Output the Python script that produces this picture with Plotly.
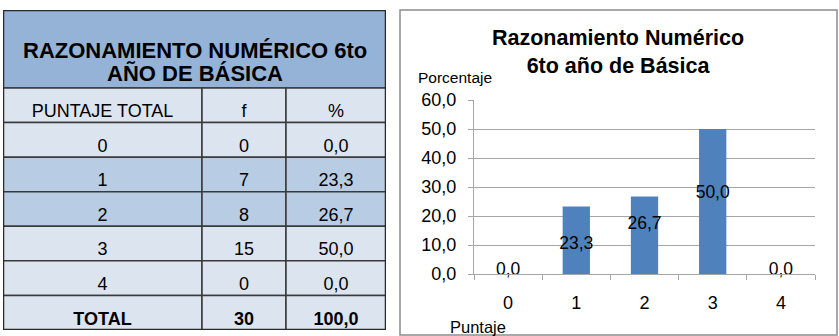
import plotly.graph_objects as go

# ---------------- data ----------------
puntaje = ["0", "1", "2", "3", "4"]
frecuencia = [0, 7, 8, 15, 0]
porcentaje = [0.0, 23.3, 26.7, 50.0, 0.0]
total_label = "TOTAL"
total_f = 30
total_pct = 100.0

table_title_lines = ["RAZONAMIENTO NUMÉRICO 6to", "AÑO DE BÁSICA"]
col_headers = ["PUNTAJE TOTAL", "f", "%"]
chart_title = "Razonamiento Numérico<br>6to año de Básica"
y_title = "Porcentaje"
x_title = "Puntaje"

# ---------------- layout / style constants ----------------
W, H = 839, 336
FONT = "Liberation Sans, Arial, sans-serif"
label_pos = [1.3, 10.1, 17.1, 27.7, 1.3]   # where the data labels sit (value units)

col_widths = [199, 84, 100]
tbl_left, tbl_top, tbl_bottom = 3, 10, 330
title_h = 78
title_line_y = [40, 63]
tbl_w = sum(col_widths)
tbl_h = tbl_bottom - tbl_top

HEAD_BLUE = "#95B3D7"
LIGHT = "#DCE4EF"
MID = "#B8CCE4"
GRID = "#A6A6A6"
BORDER = "#3A3A3A"


def fmt(v):
    return f"{v:.1f}".replace(".", ",")


rows = [col_headers]
for p, f, pc in zip(puntaje, frecuencia, porcentaje):
    rows.append([p, str(f), fmt(pc)])
rows.append([f"<b>{total_label}</b>", f"<b>{total_f}</b>", f"<b>{fmt(total_pct)}</b>"])
row_fill = [LIGHT, LIGHT, MID, MID, LIGHT, LIGHT, LIGHT]

n_rows = len(rows)
row_h = (tbl_h - title_h) / n_rows
col_edges = [0]
for w in col_widths:
    col_edges.append(col_edges[-1] + w)
col_centers = [(col_edges[i] + col_edges[i + 1]) / 2 for i in range(len(col_widths))]

fig = go.Figure()
shapes = []

# title block of the table
shapes.append(dict(type="rect", xref="x2", yref="y2", x0=0, x1=tbl_w, y0=0, y1=title_h,
                   fillcolor=HEAD_BLUE, line=dict(color=BORDER, width=1.5), layer="below"))

tx, ty, tt = [], [], []
for r, row in enumerate(rows):
    y0 = title_h + r * row_h
    y1 = y0 + row_h
    for c, val in enumerate(row):
        shapes.append(dict(type="rect", xref="x2", yref="y2",
                           x0=col_edges[c], x1=col_edges[c + 1], y0=y0, y1=y1,
                           fillcolor=row_fill[r], line=dict(color=BORDER, width=1.5),
                           layer="below"))
        tx.append(col_centers[c])
        ty.append(y1 - 10)
        tt.append(val)

# outer border of table
shapes.append(dict(type="rect", xref="x2", yref="y2", x0=0, x1=tbl_w, y0=0, y1=tbl_h,
                   line=dict(color="#2A2A2A", width=2.5), fillcolor="rgba(0,0,0,0)"))

fig.add_trace(go.Scatter(x=tx, y=ty, text=tt, mode="text", xaxis="x2", yaxis="y2",
                         textfont=dict(family=FONT, size=18, color="black"),
                         textposition="middle center", hoverinfo="skip", showlegend=False,
                         cliponaxis=False))

# ---------------- bar chart ----------------
fig.add_trace(go.Bar(x=puntaje, y=porcentaje, width=0.4,
                     marker=dict(color="#4F81BD", line=dict(width=0)),
                     showlegend=False, hoverinfo="skip"))
fig.add_trace(go.Scatter(x=puntaje, y=label_pos, text=[fmt(v) for v in porcentaje],
                         mode="text", textposition="middle center", cliponaxis=False,
                         textfont=dict(family=FONT, size=17.5, color="black"),
                         showlegend=False, hoverinfo="skip"))

# chart border
shapes.append(dict(type="rect", xref="paper", yref="paper",
                   x0=400 / W, x1=837 / W, y0=(H - 335) / H, y1=(H - 10) / H,
                   line=dict(color="#8C8C8C", width=1.5), fillcolor="rgba(0,0,0,0)"))

annotations = [
    dict(text=f"<b>{line}</b>", xref="x2", yref="y2", x=tbl_w / 2, y=ly,
         showarrow=False, xanchor="center", yanchor="middle",
         font=dict(family=FONT, size=22, color="black"))
    for line, ly in zip(table_title_lines, title_line_y)
] + [
    dict(text=f"<b>{chart_title}</b>", xref="paper", yref="paper", x=618 / W, y=(H - 51.5) / H,
         showarrow=False, xanchor="center", yanchor="middle",
         font=dict(family=FONT, size=21.5, color="black")),
    dict(text=y_title, xref="paper", yref="paper", x=416 / W, y=(H - 78) / H,
         showarrow=False, xanchor="left", yanchor="middle",
         font=dict(family=FONT, size=15.5, color="black")),
    dict(text=x_title, xref="paper", yref="paper", x=448 / W, y=(H - 327) / H,
         showarrow=False, xanchor="left", yanchor="middle",
         font=dict(family=FONT, size=16.5, color="black")),
]

fig.update_layout(
    width=W, height=H, margin=dict(l=0, r=0, t=0, b=0, pad=0, autoexpand=False),
    paper_bgcolor="white", plot_bgcolor="white",
    separators=", ",
    showlegend=False,
    shapes=shapes, annotations=annotations,
    xaxis=dict(domain=[474 / W, 815 / W], type="category", categoryorder="array",
               categoryarray=puntaje, range=[-0.5, 4.5], tickson="boundaries",
               ticks="outside", ticklen=5, tickcolor=GRID, tickwidth=1,
               showline=True, linecolor=GRID, linewidth=1, showgrid=False,
               ticklabelstandoff=12, automargin=False,
               tickfont=dict(family=FONT, size=18, color="black"), fixedrange=True),
    yaxis=dict(domain=[62 / H, 236 / H], range=[0, 60], dtick=10, tickformat=".1f",
               ticks="outside", ticklen=5, tickcolor=GRID, tickwidth=1,
               showline=True, linecolor=GRID, linewidth=1,
               showgrid=True, gridcolor=GRID, gridwidth=1, zeroline=False,
               ticklabelstandoff=8, automargin=False,
               tickfont=dict(family=FONT, size=18, color="black"), fixedrange=True),
    xaxis2=dict(domain=[tbl_left / W, (tbl_left + tbl_w) / W], range=[0, tbl_w],
                visible=False, fixedrange=True, automargin=False),
    yaxis2=dict(domain=[(H - tbl_bottom) / H, (H - tbl_top) / H], range=[tbl_h, 0],
                visible=False, fixedrange=True, automargin=False),
)

fig.write_html("out.html")
